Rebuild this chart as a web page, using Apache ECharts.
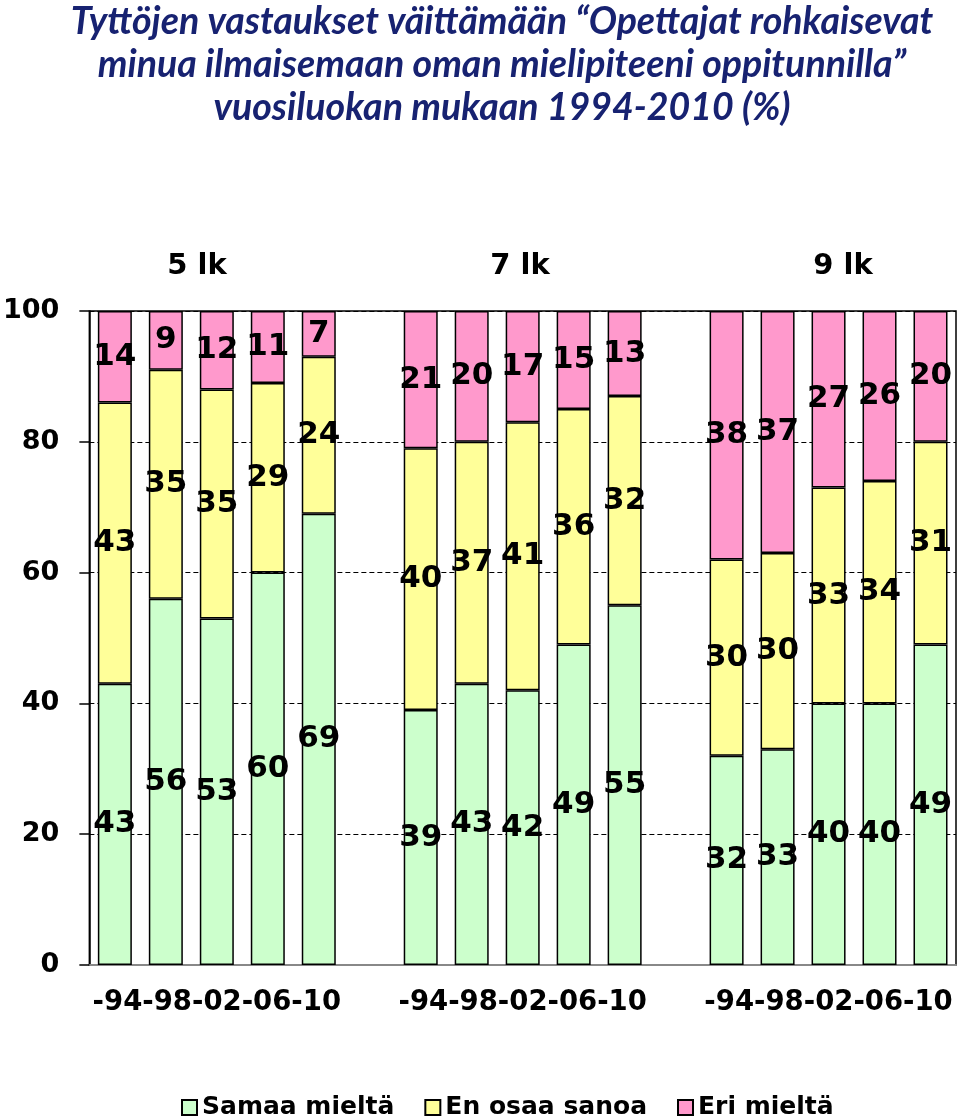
<!DOCTYPE html>
<html>
<head>
<meta charset="utf-8">
<script src="https://cdn.jsdelivr.net/npm/echarts@6/dist/echarts.min.js"></script>
<style>
html,body{margin:0;padding:0;background:#fff;}
#main{width:960px;height:1119px;}
</style>
</head>
<body>
<div id="main"></div>
<script>
// ---- data ----
const grades = ['5 lk', '7 lk', '9 lk'];
const years = ['-94', '-98', '-02', '-06', '-10'];
const groupTickLabel = '-94-98-02-06-10';
const samaa = [[43, 56, 53, 60, 69], [39, 43, 42, 49, 55], [32, 33, 40, 40, 49]];
const enOsaa = [[43, 35, 35, 29, 24], [40, 37, 41, 36, 32], [30, 30, 33, 34, 31]];
const eri = [[14, 9, 12, 11, 7], [21, 20, 17, 15, 13], [38, 37, 27, 26, 20]];
const seriesNames = ['Samaa mieltä', 'En osaa sanoa', 'Eri mieltä'];
const yTicks = [0, 20, 40, 60, 80, 100];
const titleText = 'Tyttöjen vastaukset väittämään “Opettajat rohkaisevat\nminua ilmaisemaan oman mielipiteeni oppitunnilla”\nvuosiluokan mukaan 1994-2010 (%)';

// build flat categories with one empty slot between grade groups
const categories = [];
const flat = [[], [], []];
grades.forEach((g, gi) => {
  if (gi > 0) {
    categories.push('gap' + gi);
    flat.forEach(f => f.push(null));
  }
  years.forEach((y, yi) => {
    categories.push(g + ' ' + y);
    flat[0].push(samaa[gi][yi]);
    flat[1].push(enOsaa[gi][yi]);
    flat[2].push(eri[gi][yi]);
  });
});
const midIndices = grades.map((g, gi) => gi * (years.length + 1) + Math.floor(years.length / 2));

const colors = ['#CCFFCC', '#FFFF99', '#FF99CC'];
const FONT = 'DejaVu Sans';

const chart = echarts.init(document.getElementById('main'), null, {renderer: 'canvas'});
const option = {
  animation: false,
  backgroundColor: '#fff',
  title: {
    text: titleText,
    left: 497,
    textAlign: 'center',
    top: -5,
    textStyle: {
      fontFamily: 'Lato',
      fontStyle: 'italic',
      fontWeight: 'bold',
      fontSize: 37.5,
      lineHeight: 43,
      color: '#172271'
    }
  },
  legend: {
    left: 176,
    top: 1090,
    itemWidth: 15,
    itemHeight: 15,
    itemGap: 30,
    icon: 'rect',
    textStyle: {fontFamily: FONT, fontWeight: 'bold', fontSize: 25, color: '#000'},
    data: seriesNames
  },
  grid: {
    left: 85, right: 4, top: 311, bottom: 154,
    show: true, borderColor: '#000', borderWidth: 1.5, containLabel: false
  },
  xAxis: {
    type: 'category',
    data: categories,
    axisTick: {show: false},
    axisLine: {show: true, lineStyle: {color: '#888', width: 2}},
    axisLabel: {
      interval: 0,
      margin: 24,
      fontFamily: FONT, fontWeight: 'bold', fontSize: 27.5, color: '#000',
      formatter: (v, i) => midIndices.includes(i) ? groupTickLabel : ''
    }
  },
  yAxis: {
    type: 'value',
    min: yTicks[0], max: yTicks[yTicks.length - 1], interval: 20,
    axisLine: {show: true, lineStyle: {color: '#000', width: 1.5}},
    axisTick: {show: true, length: 10, lineStyle: {color: '#000', width: 1.5}},
    axisLabel: {margin: 30, fontFamily: FONT, fontWeight: 'bold', fontSize: 27, color: '#000'},
    splitLine: {show: true, lineStyle: {color: '#000', type: [5, 3], width: 1.2}}
  },
  graphic: grades.map((g, i) => ({
    type: 'text',
    x: [197, 520, 843][i],
    y: 266,
    style: {
      text: g, fill: '#000', font: 'bold 29px "DejaVu Sans"',
      textAlign: 'center', textVerticalAlign: 'middle'
    }
  })),
  series: seriesNames.map((name, si) => ({
    name: name,
    type: 'bar',
    stack: 'total',
    barWidth: 34,
    data: flat[si],
    itemStyle: {color: colors[si], borderColor: '#000', borderWidth: 1.5},
    label: {
      show: true,
      position: 'inside',
      fontFamily: FONT, fontWeight: 'bold', fontSize: 31, color: '#000'
    }
  }))
};
chart.setOption(option);
</script>
</body>
</html>
